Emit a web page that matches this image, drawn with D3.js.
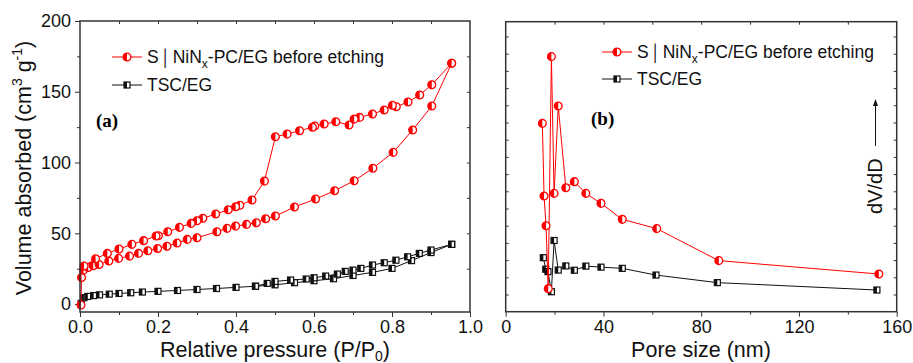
<!DOCTYPE html>
<html>
<head>
<meta charset="utf-8">
<script src="https://cdn.jsdelivr.net/npm/d3@7"></script>
<style>
  body { margin: 0; background: #fff; }
  svg text { font-family: "Liberation Sans", Arial, sans-serif; }
</style>
</head>
<body>
<svg id="chart" width="913" height="363"></svg>
<script>
// ---- (a) N2 isotherms: relative pressure vs. adsorbed volume ----
const snAdsP = [0.0026, 0.004, 0.009, 0.021, 0.034, 0.049, 0.074, 0.099, 0.127, 0.150, 0.174, 0.199, 0.223, 0.249, 0.275, 0.300, 0.351, 0.377, 0.399, 0.427, 0.452, 0.476, 0.501, 0.550, 0.604, 0.653, 0.703, 0.751, 0.803, 0.853, 0.902, 0.953];
const snAdsV = [-0.7, 18.8, 24.0, 25.9, 27.1, 28.0, 30.4, 32.3, 33.9, 35.8, 37.7, 39.3, 40.8, 43.1, 45.7, 46.9, 51.1, 53.5, 55.1, 56.3, 57.5, 60.3, 62.2, 68.6, 74.2, 80.1, 87.1, 96.0, 107.2, 123.0, 139.9, 170.1];
const snDesP = [0.953, 0.902, 0.871, 0.841, 0.811, 0.801, 0.780, 0.750, 0.717, 0.703, 0.690, 0.656, 0.626, 0.602, 0.596, 0.563, 0.531, 0.501, 0.473, 0.441, 0.410, 0.399, 0.380, 0.348, 0.315, 0.300, 0.285, 0.255, 0.225, 0.201, 0.195, 0.163, 0.133, 0.100, 0.070, 0.040, 0.0103];
const snDesV = [170.1, 155.0, 147.7, 142.8, 139.4, 140.4, 137.1, 134.3, 131.9, 130.7, 126.5, 128.8, 127.2, 125.8, 124.9, 122.5, 120.1, 118.2, 86.9, 73.5, 69.8, 68.8, 66.6, 63.6, 60.6, 58.9, 57.0, 54.2, 51.1, 48.3, 48.1, 44.8, 42.2, 38.9, 35.8, 32.0, 26.9];

const tscAdsP = [0.003, 0.010, 0.020, 0.035, 0.050, 0.075, 0.100, 0.130, 0.160, 0.200, 0.250, 0.300, 0.350, 0.400, 0.450, 0.500, 0.550, 0.600, 0.650, 0.700, 0.750, 0.800, 0.850, 0.900, 0.953];
const tscAdsV = [0.5, 4.5, 5.4, 6.0, 6.5, 7.0, 7.5, 8.0, 8.5, 9.0, 9.6, 10.3, 11.0, 11.8, 12.6, 13.6, 15.1, 16.5, 17.9, 20.2, 22.4, 25.2, 30.7, 36.4, 42.2];
const tscDesP = [0.953, 0.900, 0.870, 0.840, 0.810, 0.780, 0.750, 0.720, 0.700, 0.680, 0.660, 0.630, 0.600, 0.580, 0.540, 0.500, 0.480, 0.450];
const tscDesV = [42.2, 38.2, 35.8, 33.4, 31.0, 29.2, 27.6, 25.2, 24.0, 23.1, 21.2, 19.8, 18.6, 17.7, 17.0, 16.0, 14.6, 12.6];

// ---- (b) pore size distribution (dV/dD, arbitrary units) ----
const snPore = [15.0, 15.7, 16.5, 17.4, 18.7, 19.8, 21.5, 24.6, 28.1, 32.8, 39.0, 47.7, 61.8, 87.2, 152.7];
const snDist = [10.95, 6.73, 5.00, 1.34, 14.83, 6.88, 11.96, 7.21, 7.56, 6.88, 6.30, 5.37, 4.83, 2.97, 2.19];
const tscPore = [15.4, 16.4, 17.3, 18.7, 19.8, 21.5, 24.6, 28.1, 32.8, 39.0, 47.7, 61.5, 86.6, 151.9];
const tscDist = [3.14, 2.47, 2.33, 1.16, 4.14, 2.42, 2.66, 2.41, 2.65, 2.59, 2.52, 2.13, 1.69, 1.26];

// axis ticks
const isoXTicks = [0, 0.2, 0.4, 0.6, 0.8, 1.0];
const isoYTicks = [0, 50, 100, 150, 200];
const poreXTicks = [0, 40, 80, 120, 160];

const RED = "#ff0000", BLACK = "#111111", FRAME = "#333333";

const svg = d3.select("#chart");
const zip = (xs, ys) => xs.map((x, i) => [x, ys[i]]);

// ---------- helpers ----------
function halfCircle(g, pts, x, y, color) {
  const r = 3.9;
  const m = g.selectAll(null).data(pts).enter().append("g")
    .attr("transform", d => `translate(${x(d[0])},${y(d[1])})`);
  m.append("circle").attr("r", r).attr("fill", "#fff").attr("stroke", color).attr("stroke-width", 1.3);
  m.append("path").attr("d", `M0,${-r} A${r},${r} 0 0 0 0,${r} Z`).attr("fill", color);
}
function halfSquare(g, pts, x, y, color) {
  const s = 3;
  const m = g.selectAll(null).data(pts).enter().append("g")
    .attr("transform", d => `translate(${x(d[0])},${y(d[1])})`);
  m.append("rect").attr("x", -s).attr("y", -s).attr("width", 2 * s).attr("height", 2 * s)
    .attr("fill", "#fff").attr("stroke", color).attr("stroke-width", 1.2);
  m.append("rect").attr("x", -s).attr("y", -s).attr("width", s).attr("height", 2 * s).attr("fill", color);
}
function drawLine(g, pts, x, y, color) {
  g.append("path").datum(pts)
    .attr("d", d3.line().x(d => x(d[0])).y(d => y(d[1])))
    .attr("fill", "none").attr("stroke", color).attr("stroke-width", 1);
}
function styleAxis(sel) {
  sel.select(".domain").remove();
  sel.selectAll(".tick line").attr("stroke", FRAME).attr("stroke-width", 1);
  sel.selectAll(".tick text").attr("fill", "#111").attr("font-size", 18)
    .style("font-family", "'Liberation Sans', Arial, sans-serif");
}
function frame(x0, x1, y0, y1) {
  svg.append("rect").attr("x", x0).attr("y", y0).attr("width", x1 - x0).attr("height", y1 - y0)
    .attr("fill", "none").attr("stroke", FRAME).attr("stroke-width", 1.5);
}
function legend(g, x, y, color, marker) {
  g.append("line").attr("x1", x).attr("x2", x + 30).attr("y1", y).attr("y2", y)
    .attr("stroke", color).attr("stroke-width", 1);
  const lx = d3.scaleLinear().domain([0, 1]).range([x + 15, x + 16]);
  const ly = d3.scaleLinear().domain([0, 1]).range([y, y + 1]);
  marker(g, [[0, 0]], lx, ly, color);
}
function legendLabels(g, x, y1, y2) {
  const t = g.append("text").attr("x", x).attr("y", y1).attr("font-size", 17.5).attr("fill", "#111");
  t.append("tspan").text("S");
  t.append("tspan").text("\u2502").attr("font-size", 16).attr("dx", 2);
  t.append("tspan").text("NiN").attr("dx", 2);
  t.append("tspan").text("x").attr("font-size", 12).attr("dy", 5);
  t.append("tspan").text("-PC/EG before etching").attr("dy", -5);
  g.append("text").attr("x", x).attr("y", y2).attr("font-size", 17.5).attr("fill", "#111").text("TSC/EG");
}

// ---------- panel (a) ----------
const ax = d3.scaleLinear().domain([0, 1]).range([80, 470]);
const ay = d3.scaleLinear().domain([-5.6, 200]).range([312, 21]);
const ga = svg.append("g");

ga.append("g").attr("transform", "translate(0,312)")
  .call(d3.axisBottom(ax).tickValues(isoXTicks).tickFormat(d3.format(".1f")).tickSize(5).tickPadding(3.7)).call(styleAxis);
ga.append("g").attr("transform", "translate(0,312)")
  .call(d3.axisBottom(ax).tickValues(d3.range(0.1, 1, 0.2)).tickFormat("").tickSize(3)).call(styleAxis);
ga.append("g").attr("transform", "translate(80,0)")
  .call(d3.axisLeft(ay).tickValues(isoYTicks).tickSize(5).tickPadding(4)).call(styleAxis);
ga.append("g").attr("transform", "translate(80,0)")
  .call(d3.axisLeft(ay).tickValues(d3.range(25, 200, 50)).tickFormat("").tickSize(3)).call(styleAxis);
ga.append("g").attr("transform", "translate(0,21)")
  .call(d3.axisTop(ax).tickValues(d3.range(0.1, 1, 0.1)).tickFormat("").tickSize(-3)).call(styleAxis);
ga.append("g").attr("transform", "translate(470,0)")
  .call(d3.axisRight(ay).tickValues(d3.range(25, 200, 25)).tickFormat("").tickSize(-3)).call(styleAxis);
frame(80, 470, 21, 312);

drawLine(ga, zip(tscAdsP, tscAdsV), ax, ay, BLACK);
drawLine(ga, zip(tscDesP, tscDesV), ax, ay, BLACK);
halfSquare(ga, zip(tscAdsP, tscAdsV), ax, ay, BLACK);
halfSquare(ga, zip(tscDesP, tscDesV), ax, ay, BLACK);
drawLine(ga, zip(snAdsP, snAdsV), ax, ay, RED);
drawLine(ga, zip(snDesP, snDesV), ax, ay, RED);
halfCircle(ga, zip(snAdsP, snAdsV), ax, ay, RED);
halfCircle(ga, zip(snDesP, snDesV), ax, ay, RED);

legend(ga, 112, 57, RED, halfCircle);
legend(ga, 112, 85, BLACK, halfSquare);
legendLabels(ga, 147, 63, 91);
ga.append("text").attr("x", 96).attr("y", 127).attr("font-size", 19).attr("font-weight", "bold")
  .style("font-family", "'Liberation Serif', 'Times New Roman', serif").text("(a)");

const yt = ga.append("text").attr("transform", "translate(31,168) rotate(-90)")
  .attr("text-anchor", "middle").attr("font-size", 21.5).attr("fill", "#111");
yt.append("tspan").text("Volume absorbed (cm");
yt.append("tspan").text("3").attr("font-size", 14).attr("dy", -9);
yt.append("tspan").text(" g").attr("dy", 9);
yt.append("tspan").text("-1").attr("font-size", 14).attr("dy", -9);
yt.append("tspan").text(")").attr("dy", 9);

const xt = ga.append("text").attr("x", 275).attr("y", 357).attr("text-anchor", "middle")
  .attr("font-size", 21.5).attr("fill", "#111");
xt.append("tspan").text("Relative pressure (P/P");
xt.append("tspan").text("0").attr("font-size", 14).attr("dy", 4);
xt.append("tspan").text(")").attr("dy", -4);

// ---------- panel (b) ----------
const bx = d3.scaleLinear().domain([0, 160]).range([505.7, 896.7]);
const by = d3.scaleLinear().domain([0, 16.86]).range([311.7, 21.7]);
const gb = svg.append("g");

gb.append("g").attr("transform", "translate(0,311.7)")
  .call(d3.axisBottom(bx).tickValues(poreXTicks).tickSize(5).tickPadding(3.7)).call(styleAxis);
gb.append("g").attr("transform", "translate(0,311.7)")
  .call(d3.axisBottom(bx).tickValues([20, 60, 100, 140]).tickFormat("").tickSize(3)).call(styleAxis);
gb.append("g").attr("transform", "translate(0,21.7)")
  .call(d3.axisTop(bx).tickValues(d3.range(20, 160, 20)).tickFormat("").tickSize(-3)).call(styleAxis);
gb.append("g").attr("transform", "translate(505.7,0)")
  .call(d3.axisLeft(by).tickValues(d3.range(1, 17, 1)).tickFormat("").tickSize(-3)).call(styleAxis);
gb.append("g").attr("transform", "translate(896.7,0)")
  .call(d3.axisRight(by).tickValues(d3.range(1, 17, 1)).tickFormat("").tickSize(-3)).call(styleAxis);
frame(505.7, 896.7, 21.7, 311.7);

drawLine(gb, zip(tscPore, tscDist), bx, by, BLACK);
halfSquare(gb, zip(tscPore, tscDist), bx, by, BLACK);
drawLine(gb, zip(snPore, snDist), bx, by, RED);
halfCircle(gb, zip(snPore, snDist), bx, by, RED);

legend(gb, 602, 52, RED, halfCircle);
legend(gb, 602, 79, BLACK, halfSquare);
legendLabels(gb, 637, 58, 85);
gb.append("text").attr("x", 591).attr("y", 125).attr("font-size", 19).attr("font-weight", "bold")
  .style("font-family", "'Liberation Serif', 'Times New Roman', serif").text("(b)");

// dV/dD indicator with upward arrow
gb.append("text").attr("transform", "translate(882,214) rotate(-90)")
  .attr("font-size", 20).attr("fill", "#111").text("dV/dD");
gb.append("line").attr("x1", 875.5).attr("x2", 875.5).attr("y1", 146).attr("y2", 104)
  .attr("stroke", "#111").attr("stroke-width", 1);
gb.append("path").attr("d", "M875.5,99 L873,106 L878,106 Z").attr("fill", "#111");

gb.append("text").attr("x", 701).attr("y", 357).attr("text-anchor", "middle")
  .attr("font-size", 21.5).attr("fill", "#111").text("Pore size (nm)");
</script>
</body>
</html>
